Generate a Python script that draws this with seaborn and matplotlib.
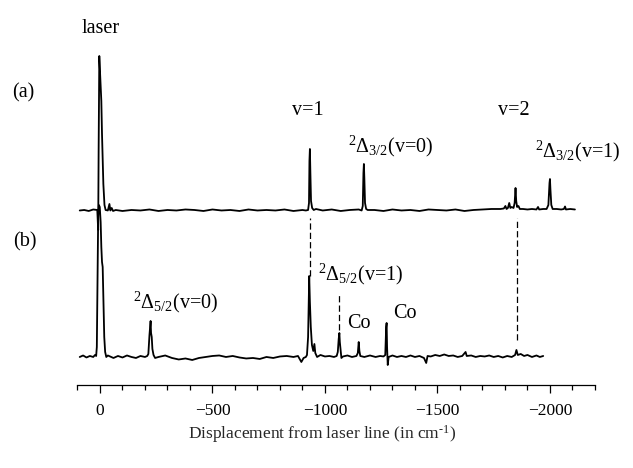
import matplotlib
matplotlib.use("Agg")
import matplotlib.pyplot as plt
import seaborn as sns
import pandas as pd

# spectrum (a): Raman shift (cm-1) and signal above its own baseline
a_shift = [90, 70, 50, 30, 12, 8, 6, 3, 0, -3, -6, -9, -15, -20, -25,
           -35, -42, -46, -52, -58, -70,
           -100, -140, -180, -220, -260, -300, -340, -380, -420, -460, -500,
           -540, -580, -620, -660, -700, -740, -780, -820, -860, -900,
           -915, -925, -929, -931, -933, -935, -938, -943, -950, -960,
           -990, -1030, -1070, -1110, -1150,
           -1163, -1168, -1171, -1173, -1175, -1178, -1183, -1190,
           -1220, -1260, -1300, -1340, -1380, -1420, -1460, -1500, -1540,
           -1580, -1620, -1660, -1700, -1740, -1780,
           -1795, -1802, -1807, -1813, -1819, -1824, -1830, -1838, -1843,
           -1847, -1850, -1854, -1860, -1866, -1880, -1900, -1920, -1940,
           -1947, -1952, -1970, -1985, -1993, -1998, -2000, -2002, -2006,
           -2012, -2030, -2050, -2062, -2067, -2071, -2090, -2111]
a_signal = [0.5, 1.0, 0.0, 1.5, 1.0, -19, 60, 155, 140, 125, 110, 77, 27, 6, 1,
            0.5, 7, 0.5, 3, 0, 1,
            0, 1, 0.5, 1.5, 0, 1, 0.5, 1.5, 1, 0, 1.5,
            0.5, 1, 0, 1.5, 0.5, 1, 0.5, 1.5, 0, 1,
            0.5, 1, 8, 50, 62, 40, 10, 3, 1, 2,
            0.5, 1.5, 0, 1, 1.5,
            0.5, 5, 38, 47, 33, 8, 2, 1,
            1, 0, 1.5, 0.5, 1, 0, 1.5, 1, 0.5,
            1.5, 0, 1, 1.5, 2, 2,
            2.5, 5, 2, 3, 8, 3, 4, 3, 8,
            23, 10, 4, 5, 2, 2, 1.5, 2, 1.5,
            4, 1.5, 2, 2, 6, 28, 32, 22, 6,
            2, 2, 1.5, 2, 4.5, 1.5, 2, 1.5]

# spectrum (b)
b_shift = [90, 75, 60, 45, 30, 22, 17, 14, 11, 8, 5, 1, -3, -6, -9, -12,
           -15, -19, -23, -28, -35, -45,
           -60, -80, -100, -120, -140, -160, -180, -200, -210,
           -215, -220, -223, -225, -227, -230, -233, -238, -245,
           -260, -290, -320, -350, -380, -410, -440, -470, -500, -530, -560,
           -590, -620, -650, -680, -710, -740, -770, -800, -830, -860, -880,
           -895, -905, -915,
           -920, -925, -928, -930, -933, -937, -942, -948, -953, -957, -965,
           -980, -1000, -1020, -1040, -1052,
           -1057, -1061, -1064, -1066, -1069, -1073, -1080, -1100, -1120, -1140,
           -1146, -1150, -1153, -1157, -1175, -1200, -1225, -1245, -1260,
           -1268, -1272, -1274, -1276, -1279, -1283,
           -1300, -1320, -1340, -1360, -1380, -1400, -1420, -1440, -1450,
           -1456, -1470, -1490, -1510, -1530, -1550, -1570, -1590, -1610,
           -1625, -1630, -1650, -1670, -1690, -1710, -1730, -1750, -1770,
           -1790, -1810, -1830, -1845, -1851, -1857, -1870, -1885, -1900,
           -1920, -1940, -1955, -1970]
b_signal = [0, 1.5, -0.5, 1, 0, 2, 1, 10, 80, 140, 152, 150, 135, 110, 95, 90,
            60, 20, 5, 0, 1.5, 0.5,
            -1, 1, -0.5, 1.5, 0, -1, 1, 0, 1,
            3, 22, 30, 36, 24, 20, 8, 2, -1,
            0, 1.5, -1, -2.5, -1.5, -3, -1, 0, 1, 1.5, 0,
            1, -0.5, -1.5, -1, -2, 0, -1, 0.5, 1, 0, 1,
            -5, -1, 0,
            2, 20, 60, 81, 55, 30, 12, 6, 13, 4, 0,
            2, 0.5, 1, 0, 1,
            5, 18, 24, 15, 8, -1, 0.5, 1.5, 0, 1,
            4, 15, 6, 1, 0, 1.5, 0, 1, 0.5,
            2, 30, 34, 10, -8, 0,
            1.5, 0, 1, 0, 1.5, 0, 1, -1, -6,
            1, 0.5, 2, 1, 2.5, 1, 1.5, 0, 1,
            5, 1, 1.5, 0, 1, 0.5, 1.5, 0, 1,
            -0.5, 1, 0, 2, 7, 2, 3, 1, 2,
            0, 1.5, 0, 1]

# dashed guide lines
dash_shift = [-933, -1062, -1852]
dash_top = [167, 92, 167]
dash_bottom = [109, 55, 45]

major_ticks = [0, -500, -1000, -1500, -2000]
major_labels = ["0", "\u2212500", "\u22121000", "\u22121500", "\u22122000"]
minor_ticks = list(range(100, -2201, -100))

sns.set_style("white")
plt.rcParams["font.family"] = ["Liberation Serif", "DejaVu Serif"]
plt.rcParams["mathtext.fontset"] = "custom"
plt.rcParams["mathtext.rm"] = "Liberation Serif"
plt.rcParams["mathtext.it"] = "Liberation Serif:italic"

fig = plt.figure(figsize=(6.33, 4.68), dpi=100)
ax = fig.add_axes([0.1224, 0.1774, 0.8175, 0.8226])

off_a, off_b = 174, 28
df_a = pd.DataFrame({"shift": a_shift, "signal": [v + off_a for v in a_signal]})
df_b = pd.DataFrame({"shift": b_shift, "signal": [v + off_b for v in b_signal]})
sns.lineplot(data=df_a, x="shift", y="signal", sort=False, estimator=None,
             color="black", linewidth=1.3, ax=ax)
sns.lineplot(data=df_b, x="shift", y="signal", sort=False, estimator=None,
             color="black", linewidth=1.3, ax=ax)

ax.vlines(dash_shift, dash_bottom, dash_top, colors="black", linewidth=0.9,
          linestyles=(0, (5, 2.5)))

ax.set_xlim(100, -2200)
ax.set_ylim(0, 385)
for s in ["left", "top", "right"]:
    ax.spines[s].set_visible(False)
ax.spines["bottom"].set_linewidth(0.9)
ax.spines["bottom"].set_color("black")
ax.set_yticks([])
ax.set_xticks(minor_ticks, minor=True)
ax.set_xticks(major_ticks)
ax.set_xticklabels(major_labels, fontsize=12.5)
ax.tick_params(axis="x", which="major", direction="out", length=6, width=0.9,
               pad=7, colors="black", bottom=True)
ax.tick_params(axis="x", which="minor", direction="out", length=3.5, width=0.9,
               colors="black", bottom=True)
ax.set_ylabel("")
ax.set_xlabel("Displacement from laser line (in cm$^{\\text{-1}}$)", fontsize=12.5)
ax.xaxis.set_label_coords(0.4725, -0.10)

lab = dict(fontsize=14.5, ha="left", va="baseline", color="black")
ax.text(80, 352, "laser", **lab)
ax.text(391, 288, "(a)", **lab)
ax.text(387, 139, "(b)", **lab)
ax.text(-853, 270, "v=1", **lab)
ax.text(-1102, 233, "$^{2}\\Delta_{3/2}$(v=0)", **lab)
ax.text(-1769, 270, "v=2", **lab)
ax.text(-1933, 228, "$^{2}\\Delta_{3/2}$(v=1)", **lab)
ax.text(-147, 77, "$^{2}\\Delta_{5/2}$(v=0)", **lab)
ax.text(-969, 105, "$^{2}\\Delta_{5/2}$(v=1)", **lab)
ax.text(-1098, 57, "Co", **lab)
ax.text(-1302, 67, "Co", **lab)

fig.savefig("out.png", dpi=100)
